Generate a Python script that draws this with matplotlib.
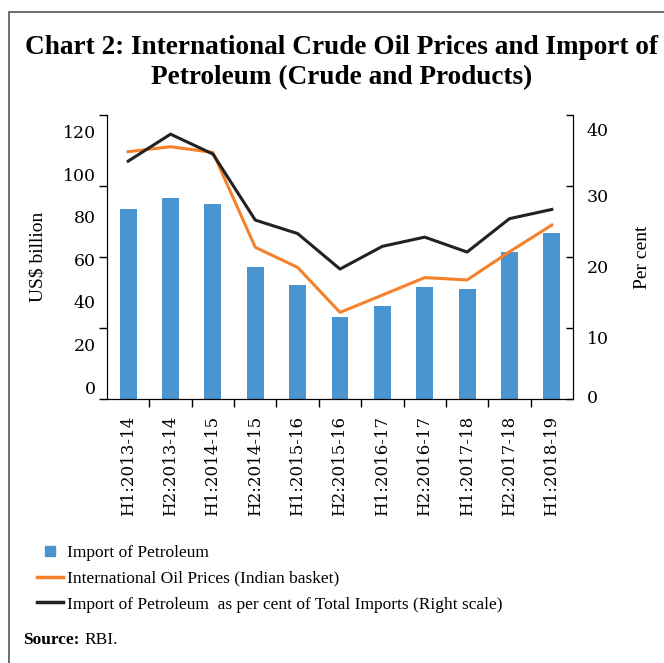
import matplotlib.pyplot as plt
from matplotlib.lines import Line2D
from matplotlib.patches import Rectangle

# datos
periodos = ['H1:2013-14', 'H2:2013-14', 'H1:2014-15', 'H2:2014-15', 'H1:2015-16',
            'H2:2015-16', 'H1:2016-17', 'H2:2016-17', 'H1:2017-18', 'H2:2017-18',
            'H1:2018-19']
importacion = [80.1, 84.8, 82.4, 55.9, 48.2, 34.5, 39.4, 47.3, 46.3, 62.1, 70.0]
precio_crudo = [104.5, 106.6, 104.2, 64.1, 55.6, 36.6, 43.9, 51.3, 50.3, 62.2, 73.5]
porcentaje = [33.5, 37.3, 34.5, 25.2, 23.3, 18.3, 21.5, 22.8, 20.7, 25.4, 26.7]

etiquetas_izq = ['0', '20', '40', '60', '80', '100', '120']
pos_etiquetas_izq = [5, 23, 41, 59, 77, 95, 113]   # en el original las etiquetas van desplazadas
etiquetas_der = ['0', '10', '20', '30', '40']
pos_etiquetas_der = [0.3, 8.7, 18.6, 28.7, 38.0]

azul = '#4a94cf'
naranja = '#f5822a'
negro = '#222222'
serif = 'Liberation Serif'
serif_ticks = 'DejaVu Serif'

fig = plt.figure(figsize=(6.64, 6.63), dpi=100)

# marco del recuadro
fig.add_artist(Rectangle((9 / 664, -0.1), 1.2, 1.1 - 12 / 663, transform=fig.transFigure,
                         fill=False, edgecolor='#555555', linewidth=1.2))

ax = fig.add_axes([107 / 664, 1 - 399 / 663, (573 - 107) / 664, (399 - 115) / 663])
x = range(len(periodos))
ax.bar(x, importacion, width=0.4, color=azul, zorder=2)
ax.plot(x, precio_crudo, color=naranja, linewidth=2.2, zorder=3)
ax.set_xlim(-0.5, len(periodos) - 0.5)
ax.set_ylim(0, 120)

ax.set_yticks([0, 30, 60, 90, 120])
ax.set_yticklabels([])
ax.set_yticks(pos_etiquetas_izq, minor=True)
ax.set_yticklabels(etiquetas_izq, minor=True, fontfamily=serif_ticks, fontsize=12.5)
ax.tick_params(axis='y', which='minor', length=0, pad=8)
ax.tick_params(axis='y', which='major', length=6, direction='out', width=1)

ax.set_xticks([i + 0.5 for i in range(len(periodos) - 1)])
ax.set_xticklabels([])
ax.set_xticks(list(x), minor=True)
ax.set_xticklabels(periodos, minor=True, rotation=90, fontfamily=serif_ticks, fontsize=12)
ax.tick_params(axis='x', which='minor', length=0, pad=12)
ax.tick_params(axis='x', which='major', length=6, direction='out', width=1)

ax.set_ylabel('US$ billion', fontfamily=serif, fontsize=14, labelpad=12)
ax.spines['top'].set_visible(False)

ax2 = ax.twinx()
ax2.plot(x, porcentaje, color=negro, linewidth=2.2, zorder=4)
ax2.set_ylim(0, 40)
ax2.set_yticks([0, 10, 20, 30, 40])
ax2.set_yticklabels([])
ax2.set_yticks(pos_etiquetas_der, minor=True)
ax2.set_yticklabels(etiquetas_der, minor=True, fontfamily=serif_ticks, fontsize=12.5)
ax2.tick_params(axis='y', which='major', length=5, direction='in', width=1)
ax2.tick_params(axis='y', which='minor', length=0, pad=10)
ax2.set_ylabel('Per cent', fontfamily=serif, fontsize=14, labelpad=18)
ax2.spines['top'].set_visible(False)

fig.text(0.514, 1 - 48 / 663, 'Chart 2: International Crude Oil Prices and Import of',
         ha='center', va='center', fontfamily=serif, fontweight='bold', fontsize=19.6)
fig.text(0.514, 1 - 78 / 663, 'Petroleum (Crude and Products)',
         ha='center', va='center', fontfamily=serif, fontweight='bold', fontsize=19.6)

manejadores = [
    Line2D([], [], color=azul, marker='s', linestyle='none', markersize=7),
    Line2D([], [], color=naranja, linewidth=2.5),
    Line2D([], [], color=negro, linewidth=2.5),
]
textos = ['Import of Petroleum', 'International Oil Prices (Indian basket)',
          'Import of Petroleum  as per cent of Total Imports (Right scale)']
fig.legend(manejadores, textos, loc='upper left', bbox_to_anchor=(37 / 664, 1 - 545 / 663),
           frameon=False, prop={'family': serif, 'size': 12.5}, handlelength=1.5,
           handletextpad=0.25, labelspacing=0.55, borderaxespad=0, borderpad=0)

fuente = fig.text(23 / 664, 1 - 640 / 663, 'Source:', fontfamily=serif, fontweight='bold',
                  fontsize=12.5, va='center')
fig.add_artist(plt.Annotation('RBI.', xy=(1, 0.5), xycoords=fuente, xytext=(4, 0),
                              textcoords='offset points', va='center',
                              fontfamily=serif, fontsize=12.5))

fig.savefig('out.png', dpi=100)
